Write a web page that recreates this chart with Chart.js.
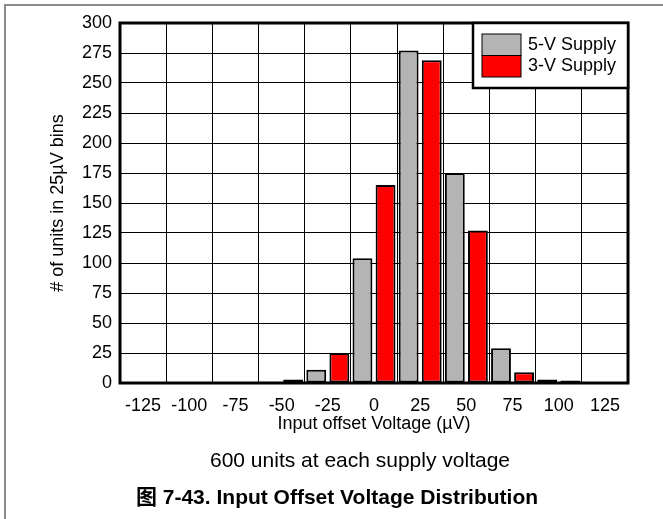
<!DOCTYPE html>
<html>
<head>
<meta charset="utf-8">
<title>Input Offset Voltage Distribution</title>
<script src="https://cdn.jsdelivr.net/npm/chart.js@4.4.0/dist/chart.umd.min.js"></script>
<style>
  html, body { margin: 0; padding: 0; background: #fff; }
  #wrap { position: relative; width: 663px; height: 519px; }
</style>
</head>
<body>
<div id="wrap"><canvas id="offsetChart" width="663" height="519"></canvas></div>
<script>
// Histogram bins (µV) and unit counts per supply
const binLabels = ['-125', '-100', '-75', '-50', '-25', '0', '25', '50', '75', '100', '125'];
const supply5V = [0, 0, 0, 1, 11, 104, 277, 175, 29, 3, 0];
const supply3V = [0, 0, 0, 3, 25, 165, 269, 127, 9, 2, 0];
const seriesNames = ['5-V Supply', '3-V Supply'];
const yMin = 0;
const yMax = 300;
const yStep = 25;

const noteText = '600 units at each supply voltage';
const captionText = '图 7-43. Input Offset Voltage Distribution';

const FONT = '"Liberation Sans", Arial, "Noto Sans CJK SC", sans-serif';

document.addEventListener('DOMContentLoaded', function() {
  initializeChart();
});

// outer figure frame (left and top edges only)
const figureFrame = {
  id: 'figureFrame',
  beforeDraw(chart) {
    const ctx = chart.ctx;
    ctx.save();
    ctx.strokeStyle = '#8a8a8a';
    ctx.lineWidth = 2;
    ctx.beginPath();
    ctx.moveTo(5, chart.height);
    ctx.lineTo(5, 5);
    ctx.lineTo(chart.width, 5);
    ctx.stroke();
    ctx.restore();
  }
};

// heavy box around the plot, legend box and the notes underneath
const plotDecor = {
  id: 'plotDecor',
  afterDraw(chart) {
    const ctx = chart.ctx;
    const a = chart.chartArea;
    ctx.save();

    ctx.strokeStyle = '#000';
    ctx.lineWidth = 3;
    ctx.strokeRect(a.left, a.top, a.right - a.left, a.bottom - a.top);

    // legend
    const lx = a.right - 155, ly = a.top, lw = 155, lh = 65;
    ctx.fillStyle = '#fff';
    ctx.fillRect(lx, ly, lw, lh);
    ctx.lineWidth = 2.5;
    ctx.strokeRect(lx, ly, lw, lh);

    const ds = chart.data.datasets;
    ds.forEach(function(d, i) {
      const sy = ly + 11 + i * 21.5;
      ctx.fillStyle = d.backgroundColor;
      ctx.fillRect(lx + 9, sy, 39, 21.5);
      ctx.lineWidth = 1;
      ctx.strokeStyle = '#000';
      ctx.strokeRect(lx + 9, sy, 39, 21.5);
      ctx.fillStyle = '#000';
      ctx.font = '18px ' + FONT;
      ctx.textAlign = 'left';
      ctx.textBaseline = 'middle';
      ctx.fillText(d.label, lx + 55, sy + 11);
    });

    // notes under the axis
    ctx.fillStyle = '#000';
    ctx.textAlign = 'center';
    ctx.textBaseline = 'middle';
    ctx.font = '21px ' + FONT;
    ctx.fillText(noteText, 360, 461);
    ctx.font = 'bold 21px ' + FONT;
    ctx.fillText(captionText, 337, 498);

    ctx.restore();
  }
};

function initializeChart() {
  Chart.defaults.font.family = FONT;
  Chart.defaults.color = '#000';

  const ctx = document.getElementById('offsetChart').getContext('2d');
  new Chart(ctx, {
    type: 'bar',
    data: {
      labels: binLabels,
      datasets: [{
        label: seriesNames[0],
        data: supply5V,
        backgroundColor: '#b4b4b4',
        borderColor: '#000',
        borderWidth: 2,
        borderSkipped: false
      }, {
        label: seriesNames[1],
        data: supply3V,
        backgroundColor: '#ff0000',
        borderColor: '#000',
        borderWidth: 2,
        borderSkipped: false
      }]
    },
    options: {
      responsive: false,
      animation: false,
      layout: {
        padding: { top: 23, right: 35, bottom: 76, left: 0 }
      },
      plugins: {
        legend: { display: false },
        tooltip: { enabled: false }
      },
      datasets: {
        bar: {
          categoryPercentage: 1.0,
          barPercentage: 0.86
        }
      },
      scales: {
        x: {
          grid: {
            offset: true,
            color: '#000',
            lineWidth: 1,
            drawTicks: false
          },
          border: { display: false },
          ticks: {
            padding: 12,
            maxRotation: 0,
            autoSkip: false,
            font: { size: 18 }
          },
          title: {
            display: true,
            text: 'Input offset Voltage (µV)',
            font: { size: 18 },
            padding: { top: 0, bottom: 8 }
          },
          afterFit: function(scale) {
            scale.height = 60;
          }
        },
        y: {
          min: yMin,
          max: yMax,
          grid: {
            color: '#000',
            lineWidth: 1,
            drawTicks: false
          },
          border: { display: false },
          ticks: {
            stepSize: yStep,
            padding: 8,
            font: { size: 18 }
          },
          title: {
            display: true,
            text: '# of units in 25µV bins',
            font: { size: 18 },
            padding: { top: 47, bottom: 0 }
          },
          afterFit: function(scale) {
            scale.width = 120;
          }
        }
      }
    },
    plugins: [figureFrame, plotDecor]
  });
}
</script>
</body>
</html>
